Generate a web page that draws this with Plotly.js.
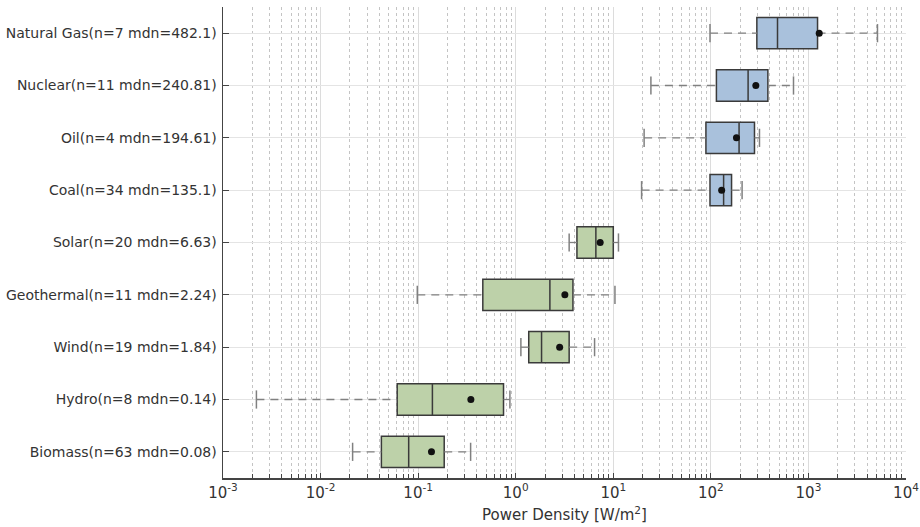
<!DOCTYPE html>
<html>
<head>
<meta charset="utf-8">
<script src="https://cdn.plot.ly/plotly-3.0.1.min.js"></script>
<style>html,body{margin:0;padding:0;background:#fff}#chart{width:920px;height:527px}</style>
</head>
<body>
<div id="chart"></div>
<script>
// Data (top to bottom as in the reference)
const sources   = ["Natural Gas","Nuclear","Oil","Coal","Solar","Geothermal","Wind","Hydro","Biomass"];
const counts    = [7, 11, 4, 34, 20, 11, 19, 8, 63];
const medianTxt = ["482.1","240.81","194.61","135.1","6.63","2.24","1.84","0.14","0.08"];
const medians   = [482.1, 240.81, 194.61, 135.1, 6.63, 2.24, 1.84, 0.14, 0.08];
const q1s       = [296, 114, 89, 98, 4.24, 0.46, 1.36, 0.061, 0.042];
const q3s       = [1240, 384, 280, 163, 10.0, 3.86, 3.53, 0.75, 0.185];
const lowW      = [98, 24.3, 20.7, 19.5, 3.53, 0.098, 1.13, 0.0022, 0.0213];
const highW     = [5100, 703, 315, 209, 11.3, 10.4, 6.43, 0.872, 0.345];
const means     = [1290, 289, 183, 129, 7.34, 3.19, 2.82, 0.347, 0.137];
const groups    = ["fossil","fossil","fossil","fossil","renew","renew","renew","renew","renew"];
const xTickVals = [1e-3, 1e-2, 1e-1, 1, 10, 100, 1000, 10000];
const xTickText = ["10<sup>-3</sup>","10<sup>-2</sup>","10<sup>-1</sup>","10<sup>0</sup>","10<sup>1</sup>","10<sup>2</sup>","10<sup>3</sup>","10<sup>4</sup>"];
const xTitle    = "Power Density [W/m<sup>2</sup>]";

const labels = sources.map((s, i) => `${s}(n=${counts[i]} mdn=${medianTxt[i]})`);
const colors = {fossil: "#a9c1dc", renew: "#bdd1a9"};

const traces = [];
// whiskers (dashed)
const wx = [], wy = [];
labels.forEach((l, i) => {
  wx.push(lowW[i], q1s[i], null, q3s[i], highW[i], null);
  wy.push(l, l, null, l, l, null);
});
traces.push({type: "scatter", mode: "lines", x: wx, y: wy,
  line: {color: "#808080", width: 1.3, dash: "8px,6px"}, hoverinfo: "skip", showlegend: false});
// whisker caps
traces.push({type: "scatter", mode: "markers",
  x: lowW.concat(highW), y: labels.concat(labels),
  marker: {symbol: "line-ns-open", size: 13, color: "#808080", line: {color: "#808080", width: 1.5}},
  hoverinfo: "skip", showlegend: false});
// boxes
["fossil", "renew"].forEach(g => {
  const idx = labels.map((_, i) => i).filter(i => groups[i] === g);
  traces.push({
    type: "box", orientation: "h",
    y: idx.map(i => labels[i]),
    q1: idx.map(i => q1s[i]),
    median: idx.map(i => medians[i]),
    q3: idx.map(i => q3s[i]),
    lowerfence: idx.map(i => q1s[i]),
    upperfence: idx.map(i => q3s[i]),
    fillcolor: colors[g],
    line: {color: "#3a3a3a", width: 1.5},
    whiskerwidth: 0, width: 0.6, boxpoints: false,
    hoverinfo: "skip", showlegend: false
  });
});
// means
traces.push({type: "scatter", mode: "markers", x: means, y: labels,
  marker: {color: "#111", size: 7}, hoverinfo: "skip", showlegend: false});

const fam = "DejaVu Sans, Liberation Sans, sans-serif";
const layout = {
  width: 920, height: 527,
  margin: {l: 223, r: 14, t: 7, b: 49},
  paper_bgcolor: "#fff", plot_bgcolor: "#fff",
  font: {family: fam, size: 14, color: "#333"},
  showlegend: false,
  xaxis: {
    type: "log", range: [-3, 4],
    tickvals: xTickVals, ticktext: xTickText,
    ticks: "inside", ticklen: 5, tickcolor: "#444",
    showline: true, linecolor: "#444", linewidth: 1.5,
    showgrid: true, gridcolor: "#dcdcdc", gridwidth: 1,
    zeroline: false,
    minor: {dtick: "D1", ticks: "inside", ticklen: 4, tickcolor: "#444",
            showgrid: true, gridcolor: "#c4c4c4", griddash: "dot", gridwidth: 1},
    tickfont: {family: fam, size: 15, color: "#333"},
    title: {text: xTitle, font: {family: fam, size: 15, color: "#333"}, standoff: 9},
    fixedrange: true
  },
  yaxis: {
    type: "category",
    categoryorder: "array", categoryarray: labels.slice().reverse(),
    range: [-0.5, labels.length - 0.5],
    ticks: "inside", ticklen: 6, tickcolor: "#444",
    showline: true, linecolor: "#444", linewidth: 1.5,
    showgrid: true, gridcolor: "#e4e4e4", gridwidth: 1,
    zeroline: false,
    tickfont: {family: fam, size: 14, color: "#333"},
    ticklabelstandoff: 2,
    fixedrange: true
  }
};
Plotly.newPlot("chart", traces, layout, {displayModeBar: false, staticPlot: true});
</script>
</body>
</html>
